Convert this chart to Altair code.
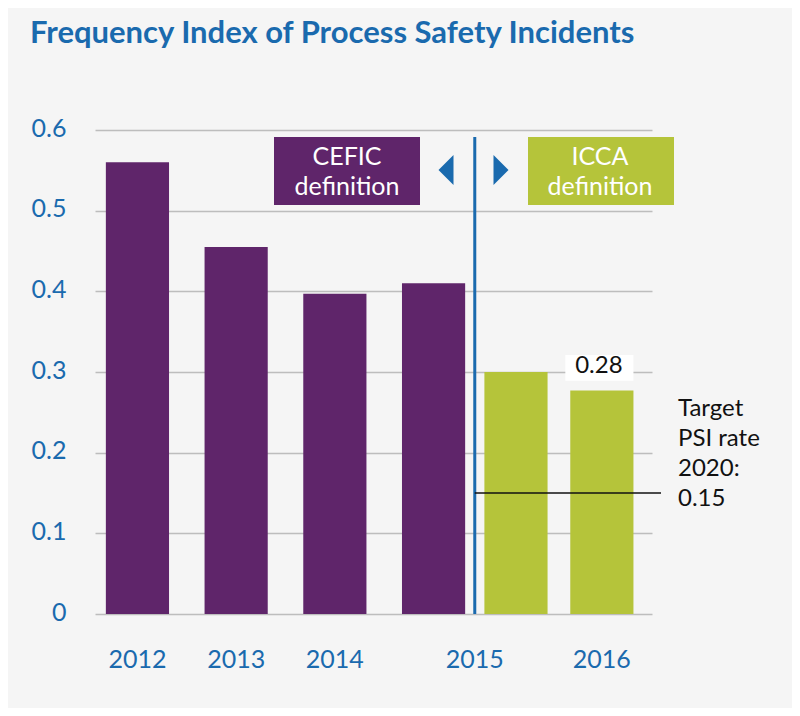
import altair as alt
import pandas as pd

# ---- data ----
years = ["2012", "2013", "2014", "2015", "2015", "2016"]
definitions = ["CEFIC", "CEFIC", "CEFIC", "CEFIC", "ICCA", "ICCA"]
rates = [0.56, 0.455, 0.397, 0.41, 0.30, 0.277]
# horizontal slot of each bar (layout of the original: 2015 bars sit closer together)
slots = [0, 1, 2, 3, 3.835, 4.705]
y_ticks = [0, 0.1, 0.2, 0.3, 0.4, 0.5, 0.6]
target_rate = 0.15
target_text = ["Target", "PSI rate", "2020:", "0.15"]
cefic_text = ["CEFIC", "definition"]
icca_text = ["ICCA", "definition"]

BLUE = "#1a6aae"
PURPLE = "#5f256a"
GREEN = "#b5c43a"
FONT = "Lato"
W, H = 557, 484

df = pd.DataFrame({"year": years, "definition": definitions, "rate": rates, "slot": slots})
one = pd.DataFrame({"k": [0]})

xscale = alt.Scale(domain=[-0.43, 5.213], nice=False, zero=False)
yscale = alt.Scale(domain=[0, 0.6], nice=False)
yaxis = alt.Axis(values=y_ticks, title=None, domain=False, ticks=False, grid=True,
                 gridColor="#bdbdbd", gridWidth=1.5, labelPadding=29, labelOffset=-2,
                 labelFontSize=25, labelColor=BLUE, labelFont=FONT,
                 labelExpr="datum.value == 0 ? '0' : format(datum.value, '.1f')")

base = alt.Chart(df)

bars = base.transform_calculate(
    x0="datum.slot - 0.32", x1="datum.slot + 0.32"
).mark_rect().encode(
    x=alt.X("x0:Q", scale=xscale, axis=None),
    x2="x1:Q",
    y=alt.Y("rate:Q", scale=yscale, axis=yaxis),
    y2=alt.Y2(datum=0),
    color=alt.Color("definition:N", scale=alt.Scale(domain=["CEFIC", "ICCA"], range=[PURPLE, GREEN]), legend=None),
)

year_labels = base.transform_aggregate(
    slot="mean(slot)", groupby=["year"]
).mark_text(fontSize=25, font=FONT, color=BLUE, baseline="middle").encode(
    x=alt.X("slot:Q", scale=xscale, axis=None),
    y=alt.value(H + 46),
    text="year:N",
)

div = base.transform_filter("datum.year == '2015'").transform_aggregate(div="mean(slot)")

divider = div.mark_rule(color=BLUE, strokeWidth=3).encode(
    x=alt.X("div:Q", scale=xscale, axis=None),
    y=alt.value(7),
    y2=alt.value(H),
)

target_line = div.transform_calculate(t=str(target_rate)).mark_rule(color="#111111", strokeWidth=1.5).encode(
    x=alt.X("div:Q", scale=xscale, axis=None),
    x2=alt.value(566),
    y=alt.Y("t:Q", scale=yscale, axis=yaxis),
)

target_label = alt.Chart(one).mark_text(
    text=target_text, align="left", baseline="middle", fontSize=24, font=FONT,
    color="#111111", lineHeight=30
).encode(x=alt.value(583), y=alt.value(279))

last = base.transform_filter("datum.year == '2016'")
label_box = last.transform_calculate(
    x0="datum.slot - 0.37", x1="datum.slot + 0.32",
    y0="datum.rate + 0.012", y1="datum.rate + 0.044"
).mark_rect(color="white").encode(
    x=alt.X("x0:Q", scale=xscale, axis=None), x2="x1:Q",
    y=alt.Y("y0:Q", scale=yscale, axis=yaxis), y2="y1:Q",
)
label_text = last.mark_text(fontSize=24, font=FONT, color="#111111", dy=-25, dx=-3).encode(
    x=alt.X("slot:Q", scale=xscale, axis=None),
    y=alt.Y("rate:Q", scale=yscale, axis=yaxis),
    text=alt.Text("rate:Q", format=".2f"),
)

cefic_box = alt.Chart(one).mark_rect(color=PURPLE).encode(
    x=alt.value(179), x2=alt.value(325), y=alt.value(7), y2=alt.value(75))
cefic_lbl = alt.Chart(one).mark_text(text=cefic_text, fontSize=25, font=FONT, color="white",
                                     lineHeight=30, baseline="middle").encode(
    x=alt.value(252), y=alt.value(27))
icca_box = alt.Chart(one).mark_rect(color=GREEN).encode(
    x=alt.value(433), x2=alt.value(579), y=alt.value(7), y2=alt.value(75))
icca_lbl = alt.Chart(one).mark_text(text=icca_text, fontSize=25, font=FONT, color="white",
                                    lineHeight=30, baseline="middle").encode(
    x=alt.value(505), y=alt.value(27))

arrow_l = alt.Chart(one).mark_point(
    shape="M0.5,-1L-0.5,0L0.5,1Z", filled=True, color=BLUE, opacity=1, size=900, strokeWidth=0
).encode(x=alt.value(351), y=alt.value(40))
arrow_r = alt.Chart(one).mark_point(
    shape="M-0.5,-1L0.5,0L-0.5,1Z", filled=True, color=BLUE, opacity=1, size=900, strokeWidth=0
).encode(x=alt.value(406), y=alt.value(40))

chart = alt.layer(
    bars, label_box, label_text, divider, target_line, target_label, year_labels,
    cefic_box, cefic_lbl, icca_box, icca_lbl, arrow_l, arrow_r
).properties(
    width=W, height=H,
    autosize=alt.AutoSizeParams(type="none"),
    padding={"left": 87, "top": 122, "right": 140, "bottom": 94},
    background="#f5f5f5",
    title=alt.TitleParams(
        text="Frequency Index of Process Safety Incidents", anchor="start", frame="group", dx=-65,
        offset=66, fontSize=31, font=FONT, fontWeight="bold", color=BLUE,
    ),
).configure_view(stroke=None)

chart.save("out.html", embed_options={"renderer": "svg", "actions": False})
